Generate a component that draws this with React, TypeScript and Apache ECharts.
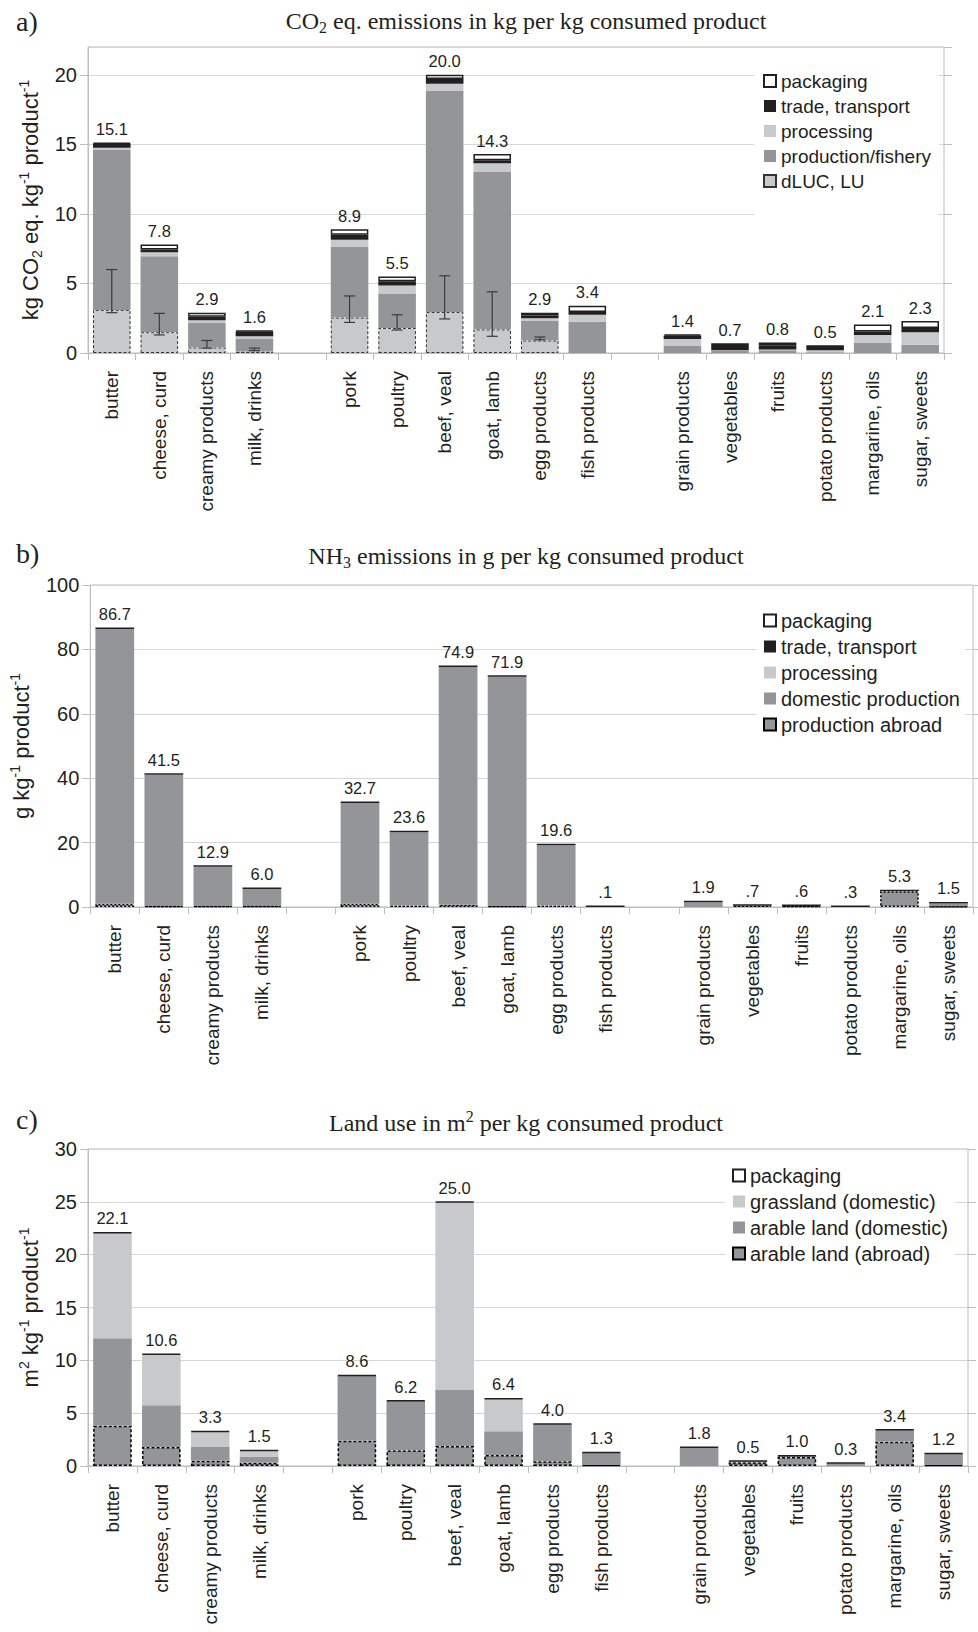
import React, { useEffect, useRef } from 'react';
import * as echarts from 'echarts';

// ---------- data ----------
const products = [
  'butter', 'cheese, curd', 'creamy products', 'milk, drinks',
  'pork', 'poultry', 'beef, veal', 'goat, lamb', 'egg products', 'fish products',
  'grain products', 'vegetables', 'fruits', 'potato products', 'margarine, oils', 'sugar, sweets',
];
// an empty category slot follows these product indices
const GAP_AFTER = [3, 9];

// a) CO2 eq. emissions, kg per kg consumed product
const dlucA = [3.1, 1.5, 0.4, 0.1, 2.55, 1.8, 2.95, 1.7, 0.9, null, null, null, null, null, null, null];
const prodA = [11.5, 5.45, 1.75, 0.9, 5.1, 2.45, 15.9, 11.35, 1.4, 2.25, 0.5, 0.15, 0.2, 0.05, 0.75, 0.6];
const procA = [0.15, 0.3, 0.2, 0.2, 0.5, 0.6, 0.5, 0.6, 0.2, 0.5, 0.5, 0.05, 0.05, 0.15, 0.55, 0.9];
const tradeA = [0.3, 0.2, 0.25, 0.35, 0.35, 0.3, 0.35, 0.2, 0.2, 0.2, 0.25, 0.3, 0.3, 0.3, 0.25, 0.3];
const packA = [0.05, 0.35, 0.3, 0.05, 0.4, 0.35, 0.3, 0.45, 0.2, 0.45, 0.1, 0.2, 0.2, 0.02, 0.5, 0.5];
const labelsA = ['15.1', '7.8', '2.9', '1.6', '8.9', '5.5', '20.0', '14.3', '2.9', '3.4', '1.4', '0.7', '0.8', '0.5', '2.1', '2.3'];
const errLowA = [2.9, 1.3, 0.35, 0.17, 2.2, 1.65, 2.45, 1.2, 0.95, null, null, null, null, null, null, null];
const errHighA = [6.0, 2.85, 0.9, 0.35, 4.1, 2.75, 5.55, 4.4, 1.15, null, null, null, null, null, null, null];

// b) NH3 emissions, g per kg consumed product
const abroadB = [1.0, 0.3, 0.3, 0.3, 1.0, 0.5, 0.7, 0.3, 0.5, null, null, 0.4, 0.3, null, 4.9, 0.2];
const domB = [85.3, 40.8, 12.2, 5.3, 31.3, 22.7, 73.8, 71.2, 18.7, null, 1.5, null, null, null, null, 0.9];
const tradeB = [0.4, 0.4, 0.4, 0.4, 0.4, 0.4, 0.4, 0.4, 0.4, 0.1, 0.4, 0.3, 0.3, 0.3, 0.4, 0.4];
const labelsB = ['86.7', '41.5', '12.9', '6.0', '32.7', '23.6', '74.9', '71.9', '19.6', '.1', '1.9', '.7', '.6', '.3', '5.3', '1.5'];

// c) Land use, m2 per kg consumed product
const abroadC = [3.8, 1.8, 0.5, 0.3, 2.4, 1.5, 1.9, 1.05, 0.45, 0.1, null, 0.35, 0.85, null, 2.3, 0.1];
const arableC = [8.3, 3.95, 1.3, 0.55, 6.15, 4.65, 5.35, 2.25, 3.5, 1.15, 1.75, 0.1, 0.1, 0.25, 1.1, 1.05];
const grassC = [9.95, 4.8, 1.45, 0.6, null, null, 17.7, 3.05, null, null, null, null, null, null, null, null];
const packC = [0.05, 0.05, 0.05, 0.05, 0.05, 0.05, 0.05, 0.05, 0.05, 0.05, 0.05, 0.05, 0.05, 0.05, 0.05, 0.05];
const labelsC = ['22.1', '10.6', '3.3', '1.5', '8.6', '6.2', '25.0', '6.4', '4.0', '1.3', '1.8', '0.5', '1.0', '0.3', '3.4', '1.2'];

// ---------- style ----------
const SANS = '"Liberation Sans", Arial, Helvetica, sans-serif';
const SERIF = '"Liberation Serif", "Times New Roman", serif';
const BLACK = '#231f20';
const DARK = '#939598';
const LIGHT = '#c8c9cb';
const GRIDC = '#d6d6d6';
const AXISC = '#bdbdbd';

function slots(arr: any[], fill: any) {
  const out: any[] = [];
  arr.forEach((v, i) => {
    out.push(v == null ? fill : v);
    if (GAP_AFTER.includes(i)) out.push(fill);
  });
  return out;
}
function slotIndex(i: number) {
  let s = i;
  GAP_AFTER.forEach((g) => { if (i > g) s += 1; });
  return s;
}

const cats = slots(products, '');

const grids = [
  { left: 88, top: 47, width: 856, height: 306, max: 22, interval: 5, hideMax: true },
  { left: 88, top: 585, width: 885, height: 322, max: 100, interval: 20, hideMax: false },
  { left: 88, top: 1149, width: 880, height: 317, max: 30, interval: 5, hideMax: false },
];

const yNames = [
  'kg CO{sub|2} eq. kg{sup|-1} product{sup|-1}',
  'g kg{sup|-1} product{sup|-1}',
  'm{sup|2} kg{sup|-1} product{sup|-1}',
];

function buildOption() {
  const xAxis = grids.map((g, gi) => ({
    type: 'category',
    gridIndex: gi,
    data: cats,
    boundaryGap: true,
    axisLine: { show: true, lineStyle: { color: AXISC, width: 1 } },
    axisTick: { show: true, interval: 0, length: 7, lineStyle: { color: AXISC } },
    axisLabel: {
      interval: 0, rotate: 90, margin: 18,
      fontFamily: SANS, fontSize: 19, color: BLACK,
    },
    splitLine: { show: false },
  }));

  const yAxis: any[] = [];
  grids.forEach((g, gi) => {
    yAxis.push({
      type: 'value', gridIndex: gi, position: 'left',
      min: 0, max: g.max, interval: g.interval,
      axisLine: { show: true, lineStyle: { color: AXISC } },
      axisTick: { show: true, length: 8, lineStyle: { color: AXISC } },
      axisLabel: {
        margin: 11, fontFamily: SANS, fontSize: 20, color: BLACK,
        showMaxLabel: !g.hideMax,
      },
      splitLine: { show: true, lineStyle: { color: GRIDC, width: 1 } },
      name: yNames[gi],
      nameLocation: 'middle',
      nameRotate: 90,
      nameGap: 44,
      nameTextStyle: {
        fontFamily: SANS, fontSize: 22, color: BLACK, lineHeight: 27,
        rich: {
          sup: { fontFamily: SANS, fontSize: 14, lineHeight: 14, verticalAlign: 'top', color: BLACK },
          sub: { fontFamily: SANS, fontSize: 14, lineHeight: 14, verticalAlign: 'bottom', color: BLACK },
        },
      },
    });
    yAxis.push({
      type: 'value', gridIndex: gi, position: 'right',
      min: 0, max: g.max, interval: g.interval,
      axisLine: { show: false },
      axisTick: { show: true, length: 8, lineStyle: { color: AXISC } },
      axisLabel: { show: false },
      splitLine: { show: false },
    });
  });

  const labelCfg = (labels: string[]) => ({
    show: true, position: 'top', distance: 5,
    fontFamily: SANS, fontSize: 16.5, color: BLACK,
    formatter: (p: any) => slots(labels, '')[p.dataIndex],
  });

  const bar = (name: string, data: any[], gi: number, itemStyle: any, extra: any = {}) => ({
    type: 'bar', name, xAxisIndex: gi, yAxisIndex: gi * 2, stack: 'p' + gi,
    data: slots(data, '-'), barCategoryGap: '21%',
    itemStyle, emphasis: { disabled: true }, ...extra,
  });

  const packStyle = { color: '#ffffff', borderColor: BLACK, borderWidth: 1.5 };

  const errData: any[] = [];
  errLowA.forEach((lo, i) => {
    if (lo != null && errHighA[i] != null) errData.push([slotIndex(i), lo, errHighA[i]]);
  });

  const series: any[] = [
    // panel a
    bar('dLUC, LU', dlucA, 0, { color: LIGHT, borderColor: '#333333', borderWidth: 1, borderType: [3, 2] }),
    bar('production/fishery', prodA, 0, { color: DARK }),
    bar('processing', procA, 0, { color: LIGHT }),
    bar('trade, transport', tradeA, 0, { color: BLACK }),
    bar('packaging', packA, 0, packStyle, { label: labelCfg(labelsA) }),
    {
      type: 'custom', name: 'uncertainty', xAxisIndex: 0, yAxisIndex: 0, z: 5,
      encode: { x: 0, y: [1, 2] },
      data: errData,
      renderItem: (params: any, api: any) => {
        const x = api.value(0);
        const lo = api.coord([x, api.value(1)]);
        const hi = api.coord([x, api.value(2)]);
        const h = 5.5;
        const style = { stroke: '#3a3a3a', lineWidth: 1.2 };
        return {
          type: 'group',
          children: [
            { type: 'line', shape: { x1: hi[0], y1: hi[1], x2: lo[0], y2: lo[1] }, style },
            { type: 'line', shape: { x1: hi[0] - h, y1: hi[1], x2: hi[0] + h, y2: hi[1] }, style },
            { type: 'line', shape: { x1: lo[0] - h, y1: lo[1], x2: lo[0] + h, y2: lo[1] }, style },
          ],
        };
      },
    },
    // panel b
    bar('production abroad', abroadB, 1, { color: DARK, borderColor: '#000000', borderWidth: 1.5, borderType: [2, 2] }),
    bar('domestic production', domB, 1, { color: DARK }),
    bar('processing', [], 1, { color: LIGHT }),
    bar('trade, transport', tradeB, 1, { color: BLACK }, { barMinHeight: 1.5, label: labelCfg(labelsB) }),
    bar('packaging', [], 1, packStyle),
    // panel c
    bar('arable land (abroad)', abroadC, 2, { color: DARK, borderColor: '#000000', borderWidth: 1.5, borderType: [3, 2] }),
    bar('arable land (domestic)', arableC, 2, { color: DARK }),
    bar('grassland (domestic)', grassC, 2, { color: LIGHT }),
    bar('packaging', packC, 2, packStyle, { label: labelCfg(labelsC) }),
  ];

  const legendBase = {
    orient: 'vertical', icon: 'rect', itemWidth: 12, itemHeight: 12, itemGap: 5,
    backgroundColor: '#ffffff', selectedMode: false,
  };
  const legend = [
    {
      ...legendBase, left: 754, top: 60, padding: [11, 8, 28, 9],
      textStyle: { fontFamily: SANS, fontSize: 19, color: BLACK, lineHeight: 20 },
      data: ['packaging', 'trade, transport', 'processing', 'production/fishery', 'dLUC, LU'],
    },
    {
      ...legendBase, left: 756, top: 596, padding: [14, 5, 16, 7],
      textStyle: { fontFamily: SANS, fontSize: 20, color: BLACK, lineHeight: 21 },
      data: ['packaging', 'trade, transport', 'processing', 'domestic production', 'production abroad'],
    },
    {
      ...legendBase, left: 725, top: 1155, padding: [10, 7, 20, 7],
      textStyle: { fontFamily: SANS, fontSize: 20, color: BLACK, lineHeight: 21 },
      data: ['packaging', 'grassland (domestic)', 'arable land (domestic)', 'arable land (abroad)'],
    },
  ];

  const titleStyle = {
    fontFamily: SERIF, fontSize: 24, fontWeight: 'normal', color: BLACK, lineHeight: 29,
    rich: {
      sub: { fontFamily: SERIF, fontSize: 16, lineHeight: 16, verticalAlign: 'bottom', color: BLACK },
      sup: { fontFamily: SERIF, fontSize: 16, lineHeight: 16, verticalAlign: 'top', color: BLACK },
    },
  };
  const panelStyle = { fontFamily: SERIF, fontSize: 28, fontWeight: 'normal', color: BLACK, lineHeight: 32 };
  const title = [
    { text: 'a)', left: 16, top: 5, padding: 0, textStyle: panelStyle },
    { text: 'CO{sub|2} eq. emissions in kg per kg consumed product', left: 526, top: 6, padding: 0, textAlign: 'center', textStyle: titleStyle },
    { text: 'b)', left: 16, top: 537, padding: 0, textStyle: panelStyle },
    { text: 'NH{sub|3} emissions in g per kg consumed product', left: 526, top: 541, padding: 0, textAlign: 'center', textStyle: titleStyle },
    { text: 'c)', left: 16, top: 1103, padding: 0, textStyle: panelStyle },
    { text: 'Land use in m{sup|2} per kg consumed product', left: 526, top: 1108, padding: 0, textAlign: 'center', textStyle: titleStyle },
  ];

  return {
    animation: false,
    backgroundColor: '#ffffff',
    title,
    legend,
    grid: grids.map((g) => ({
      left: g.left, top: g.top, width: g.width, height: g.height,
      show: true, borderColor: AXISC, borderWidth: 1, containLabel: false,
    })),
    xAxis,
    yAxis,
    series,
  };
}

export default function App() {
  const ref = useRef<HTMLDivElement>(null);
  useEffect(() => {
    document.body.style.margin = '0';
    const chart = echarts.init(ref.current as HTMLDivElement, null, { renderer: 'svg' });
    chart.setOption(buildOption() as any);
    return () => chart.dispose();
  }, []);
  return (
    <div
      ref={ref}
      style={{ position: 'absolute', left: 0, top: 0, width: 978, height: 1632, background: '#ffffff' }}
    />
  );
}
